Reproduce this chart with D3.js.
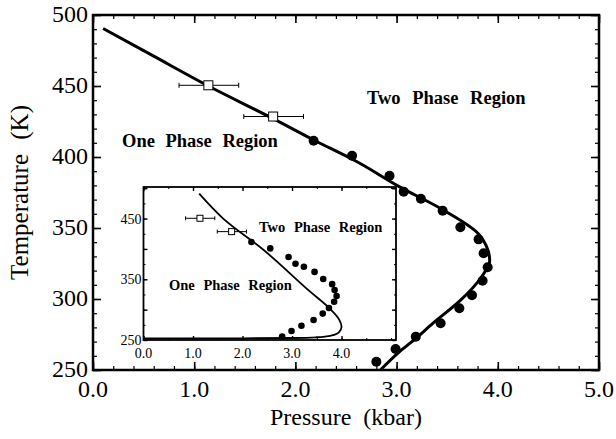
<!DOCTYPE html>
<html>
<head>
<meta charset="utf-8">
<script src="https://cdn.jsdelivr.net/npm/d3@7"></script>
<style>
  body { margin: 0; background: #fff; }
</style>
</head>
<body>
<div id="chart"></div>
<script>
// measured cloud points: pressure (kbar), temperature (K)
var dotP = [2.18, 2.56, 2.93, 3.07, 3.24, 3.455, 3.63, 3.81, 3.86, 3.90, 3.85, 3.745, 3.62, 3.435, 3.19, 2.99, 2.80];
var dotT = [411.5, 400.9, 386.8, 375.6, 370.6, 362.2, 350.5, 342.0, 332.2, 322.3, 312.9, 302.6, 293.5, 282.9, 273.5, 264.8, 255.8];

// open squares with horizontal error bars
var sqP = [1.14, 1.78];
var sqT = [450.5, 428.5];
var sqLo = [0.85, 1.49];
var sqHi = [1.44, 2.08];

// fitted curve, main plot
var fitP = [0.10, 0.60, 1.14, 1.78, 2.18, 2.60, 3.03, 3.46, 3.82, 3.92, 3.84, 3.63, 3.36, 3.17, 3.03, 2.84];
var fitT = [490.5, 471, 450, 427, 412, 397, 379, 362.7, 345, 327, 315.7, 299, 283, 271, 263, 250];

// model curve, inset
var insP = [1.125, 1.61, 2.415, 3.36, 3.76, 3.95, 4.00, 3.95, 3.80, 3.49, 3.0, 2.0, 0.0];
var insT = [491, 450, 399, 330, 302, 284, 272, 263, 257.5, 254.5, 253.3, 252.8, 252.5];

var xTicks = [0, 1, 2, 3, 4, 5];
var yTicks = [250, 300, 350, 400, 450, 500];
var insXTicks = [0, 1, 2, 3, 4];
var insYTicks = [250, 350, 450];

var FONT = "'Liberation Serif', 'Times New Roman', Times, serif";

var width = 616, height = 439;
var svg = d3.select("#chart").append("svg")
  .attr("width", width)
  .attr("height", height)
  .style("font-family", FONT);

// ---------- main plot ----------
var m = { left: 93, right: 599, top: 15, bottom: 370 };
var x = d3.scaleLinear().domain([0, 5]).range([m.left, m.right]);
var y = d3.scaleLinear().domain([250, 500]).range([m.bottom, m.top]);

// inward ticks on all four sides plus a closed frame
function drawAxes(root, xs, ys, opt) {
  var xMinor = d3.range(xs.domain()[0], xs.domain()[1] + 1e-9, opt.xMinorStep);
  var yMinor = d3.range(ys.domain()[0], ys.domain()[1] + 1e-9, opt.yMinorStep);
  var b = ys.range()[0], t = ys.range()[1], l = xs.range()[0], r = xs.range()[1];
  var sides = [
    [d3.axisBottom(xs), b, 0, xMinor, opt.xMajor],
    [d3.axisTop(xs), t, 0, xMinor, opt.xMajor],
    [d3.axisLeft(ys), 0, l, yMinor, opt.yMajor],
    [d3.axisRight(ys), 0, r, yMinor, opt.yMajor]
  ];
  sides.forEach(function (s) {
    var gm = root.append("g").attr("transform", "translate(" + s[2] + "," + s[1] + ")");
    gm.call(s[0].tickValues(s[3]).tickSize(-opt.minorLen).tickFormat(""));
    gm.select(".domain").remove();
    gm.selectAll("line").attr("stroke-width", opt.tickW);
    var gM = root.append("g").attr("transform", "translate(" + s[2] + "," + s[1] + ")");
    gM.call(s[0].tickValues(s[4]).tickSize(-opt.majorLen).tickFormat(""));
    gM.select(".domain").remove();
    gM.selectAll("line").attr("stroke-width", opt.tickW + 0.4);
  });
  root.append("rect")
    .attr("x", l).attr("y", t)
    .attr("width", r - l).attr("height", b - t)
    .attr("fill", "none").attr("stroke", "#000")
    .attr("stroke-width", opt.frameW);
}

drawAxes(svg, x, y, {
  xMinorStep: 0.2, yMinorStep: 10, xMajor: xTicks, yMajor: yTicks,
  minorLen: 4, majorLen: 8, tickW: 1.2, frameW: 2.5
});

svg.append("g").selectAll("text").data(xTicks).enter().append("text")
  .attr("x", function (d) { return x(d); })
  .attr("y", m.bottom + 27)
  .attr("text-anchor", "middle")
  .style("font-size", "24px")
  .text(function (d) { return d.toFixed(1); });

svg.append("g").selectAll("text").data(yTicks).enter().append("text")
  .attr("x", m.left - 5)
  .attr("y", function (d) { return y(d) + 7; })
  .attr("text-anchor", "end")
  .style("font-size", "24px")
  .text(function (d) { return d; });

svg.append("text")
  .attr("x", (m.left + m.right) / 2)
  .attr("y", 425)
  .attr("text-anchor", "middle")
  .style("font-size", "24px")
  .attr("word-spacing", "6px")
  .text("Pressure (kbar)");

svg.append("text")
  .attr("transform", "translate(28," + (m.top + m.bottom) / 2 + ") rotate(-90)")
  .attr("text-anchor", "middle")
  .style("font-size", "25px")
  .attr("word-spacing", "8px")
  .text("Temperature (K)");

var line = d3.line()
  .x(function (d) { return x(d[0]); })
  .y(function (d) { return y(d[1]); })
  .curve(d3.curveMonotoneY);

svg.append("path")
  .datum(d3.zip(fitP, fitT))
  .attr("d", line)
  .attr("fill", "none")
  .attr("stroke", "#000")
  .attr("stroke-width", 3);

function drawMarkers(root, xs, ys, r, sq, cap) {
  var pts = d3.zip(dotP, dotT);
  root.append("g").selectAll("circle").data(pts).enter().append("circle")
    .attr("cx", function (d) { return xs(d[0]); })
    .attr("cy", function (d) { return ys(d[1]); })
    .attr("r", r)
    .attr("fill", "#000");
  var sqs = d3.zip(sqP, sqT, sqLo, sqHi);
  var g = root.append("g").attr("stroke", "#000").attr("stroke-width", 1);
  g.selectAll(".eb").data(sqs).enter().append("line")
    .attr("x1", function (d) { return xs(d[2]); })
    .attr("x2", function (d) { return xs(d[3]); })
    .attr("y1", function (d) { return ys(d[1]); })
    .attr("y2", function (d) { return ys(d[1]); });
  [2, 3].forEach(function (k) {
    g.selectAll(".cap" + k).data(sqs).enter().append("line")
      .attr("x1", function (d) { return xs(d[k]); })
      .attr("x2", function (d) { return xs(d[k]); })
      .attr("y1", function (d) { return ys(d[1]) - cap; })
      .attr("y2", function (d) { return ys(d[1]) + cap; });
  });
  g.selectAll("rect").data(sqs).enter().append("rect")
    .attr("x", function (d) { return xs(d[0]) - sq / 2; })
    .attr("y", function (d) { return ys(d[1]) - sq / 2; })
    .attr("width", sq).attr("height", sq)
    .attr("fill", "#fff");
}

drawMarkers(svg, x, y, 5, 9, 2.5);

svg.append("text")
  .attr("x", 122).attr("y", 147)
  .style("font-size", "18.5px").style("font-weight", "bold")
  .attr("word-spacing", "6px")
  .text("One Phase Region");

svg.append("text")
  .attr("x", 367).attr("y", 104)
  .style("font-size", "18.5px").style("font-weight", "bold")
  .attr("word-spacing", "7px")
  .text("Two Phase Region");

// ---------- inset ----------
var n = { left: 143.5, right: 396, top: 187, bottom: 340 };
var xi = d3.scaleLinear().domain([0, 5.1]).range([n.left, n.right]);
var yi = d3.scaleLinear().domain([250, 502]).range([n.bottom, n.top]);

var inset = svg.append("g");
inset.append("rect")
  .attr("x", n.left).attr("y", n.top)
  .attr("width", n.right - n.left).attr("height", n.bottom - n.top)
  .attr("fill", "#fff");

drawAxes(inset, xi, yi, {
  xMinorStep: 0.5, yMinorStep: 25, xMajor: insXTicks, yMajor: d3.range(250, 501, 50),
  minorLen: 2, majorLen: 4, tickW: 1, frameW: 1.8
});

inset.append("g").selectAll("text").data(insXTicks).enter().append("text")
  .attr("x", function (d) { return xi(d); })
  .attr("y", n.bottom + 18)
  .attr("text-anchor", "middle")
  .style("font-size", "14px")
  .text(function (d) { return d.toFixed(1); });

inset.append("g").selectAll("text").data(insYTicks).enter().append("text")
  .attr("x", n.left - 2)
  .attr("y", function (d) { return yi(d) + 5; })
  .attr("text-anchor", "end")
  .style("font-size", "14px")
  .text(function (d) { return d; });

var lineI = d3.line()
  .x(function (d) { return xi(d[0]); })
  .y(function (d) { return yi(d[1]); })
  .curve(d3.curveMonotoneY);

inset.append("path")
  .datum(d3.zip(insP, insT))
  .attr("d", lineI)
  .attr("fill", "none")
  .attr("stroke", "#000")
  .attr("stroke-width", 1.8);

drawMarkers(inset, xi, yi, 3.3, 6, 2);

inset.append("text")
  .attr("x", 169).attr("y", 290)
  .style("font-size", "14.5px").style("font-weight", "bold")
  .attr("word-spacing", "5px")
  .text("One Phase Region");

inset.append("text")
  .attr("x", 259).attr("y", 232)
  .style("font-size", "14.5px").style("font-weight", "bold")
  .attr("word-spacing", "5px")
  .text("Two Phase Region");
</script>
</body>
</html>
